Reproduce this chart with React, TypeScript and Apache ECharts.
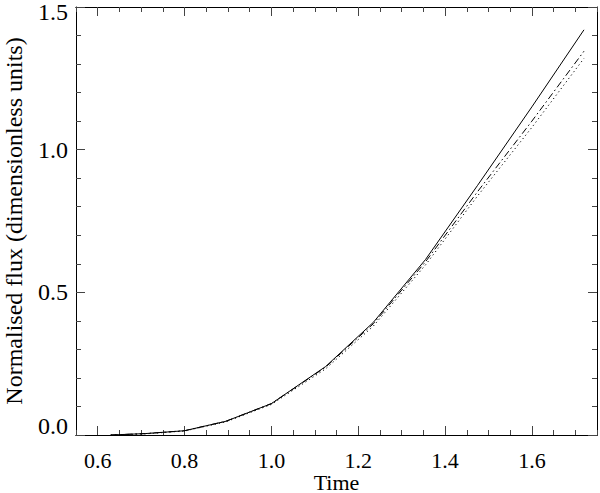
import React, { useEffect, useRef } from "react";
import * as echarts from "echarts";

const time = [0.63, 0.71, 0.8, 0.895, 1.0, 1.125, 1.235, 1.355, 1.475, 1.6, 1.72];
const fluxSolid = [0.0, 0.005, 0.015, 0.048, 0.11, 0.24, 0.395, 0.615, 0.875, 1.15, 1.42];
const fluxDashDot = [0.0, 0.005, 0.015, 0.048, 0.11, 0.238, 0.39, 0.607, 0.853, 1.1, 1.345];
const fluxDotted = [0.0, 0.004, 0.014, 0.046, 0.107, 0.232, 0.382, 0.596, 0.838, 1.078, 1.32];

const xMajorTicks = [0.6, 0.8, 1.0, 1.2, 1.4, 1.6];
const xMinorTicks = [0.55, 0.65, 0.7, 0.75, 0.85, 0.9, 0.95, 1.05, 1.1, 1.15, 1.25, 1.3, 1.35, 1.45, 1.5, 1.55, 1.65, 1.7, 1.75];

const X_MIN = 0.55;
const X_MAX = 1.75;
const Y_MIN = 0;
const Y_MAX = 1.5;

const FONT = "'Liberation Serif', 'Times New Roman', serif";
const TICK_COLOR = "#444";

function pairs(xs: number[], ys: number[]) {
  return xs.map((x, i) => [x, ys[i]]);
}

export default function App() {
  const ref = useRef<HTMLDivElement>(null);
  useEffect(() => {
    if (!ref.current) return;
    const chart = echarts.init(ref.current, null, { renderer: "svg" });
    const baseX = {
      type: "value" as const,
      min: X_MIN,
      max: X_MAX,
      splitLine: { show: false },
      axisLine: { onZero: false, lineStyle: { color: "#000", width: 1 } },
    };
    const labelFont = { fontFamily: FONT, fontSize: 24, color: "#000" };
    const xFont = { fontFamily: FONT, fontSize: 22, color: "#000", lineHeight: 22 };
    chart.setOption({
      animation: false,
      backgroundColor: "#fff",
      textStyle: { fontFamily: FONT },
      grid: { left: 76, right: 3, top: 7, bottom: 58, containLabel: false, outerBoundsMode: "none" },
      xAxis: [
        {
          ...baseX,
          position: "bottom",
          name: "Time",
          nameLocation: "middle",
          nameGap: 36,
          nameMoveOverlap: false,
          nameTextStyle: { ...xFont },
          axisTick: { inside: true, length: 9, customValues: xMajorTicks, lineStyle: { color: TICK_COLOR } },
          axisLabel: {
            customValues: xMajorTicks,
            margin: 14,
            ...xFont,
            formatter: (v: number) => v.toFixed(1),
          },
        },
        {
          ...baseX,
          position: "bottom",
          axisTick: { inside: true, length: 5, customValues: xMinorTicks, lineStyle: { color: TICK_COLOR } },
          axisLabel: { show: false },
        },
        {
          ...baseX,
          position: "top",
          axisTick: { inside: true, length: 9, customValues: xMajorTicks, lineStyle: { color: TICK_COLOR } },
          axisLabel: { show: false },
        },
        {
          ...baseX,
          position: "top",
          axisTick: { inside: true, length: 5, customValues: xMinorTicks, lineStyle: { color: TICK_COLOR } },
          axisLabel: { show: false },
        },
      ],
      yAxis: [
        {
          type: "value",
          position: "left",
          min: Y_MIN,
          max: Y_MAX,
          interval: 0.5,
          name: "Normalised flux (dimensionless units)",
          nameLocation: "middle",
          nameGap: 50,
          nameMoveOverlap: false,
          nameTextStyle: { ...labelFont },
          splitLine: { show: false },
          axisLine: { show: true, onZero: false, lineStyle: { color: "#000", width: 1 } },
          axisTick: { show: true, inside: true, length: 9, lineStyle: { color: TICK_COLOR } },
          minorTick: { show: true, splitNumber: 5, length: 5, lineStyle: { color: TICK_COLOR } },
          axisLabel: {
            margin: 8,
            ...labelFont,
            formatter: (v: number) => {
              const s = v.toFixed(1);
              if (v <= Y_MIN + 1e-9) return `{b|${s}}`;
              if (v >= Y_MAX - 1e-9) return `{t|${s}}`;
              return `{n|${s}}`;
            },
            rich: {
              n: { ...labelFont },
              b: { ...labelFont, padding: [0, 0, 18, 0] },
              t: { ...labelFont, lineHeight: 20, padding: [10, 0, 0, 0] },
            },
          },
        },
        {
          type: "value",
          position: "right",
          min: Y_MIN,
          max: Y_MAX,
          interval: 0.5,
          splitLine: { show: false },
          axisLine: { show: true, onZero: false, lineStyle: { color: "#000", width: 1 } },
          axisTick: { show: true, inside: true, length: 9, lineStyle: { color: TICK_COLOR } },
          minorTick: { show: true, splitNumber: 5, length: 5, lineStyle: { color: TICK_COLOR } },
          axisLabel: { show: false },
        },
      ],
      series: [
        {
          type: "line",
          xAxisIndex: 0,
          yAxisIndex: 0,
          data: pairs(time, fluxSolid),
          showSymbol: false,
          symbol: "none",
          lineStyle: { color: "#000", width: 1, type: "solid" },
        },
        {
          type: "line",
          xAxisIndex: 0,
          yAxisIndex: 0,
          data: pairs(time, fluxDashDot),
          showSymbol: false,
          symbol: "none",
          lineStyle: { color: "#000", width: 1, type: [7, 3, 1.5, 3] },
        },
        {
          type: "line",
          xAxisIndex: 0,
          yAxisIndex: 0,
          data: pairs(time, fluxDotted),
          showSymbol: false,
          symbol: "none",
          lineStyle: { color: "#000", width: 1, type: [1.2, 3] },
        },
      ],
    });
    return () => chart.dispose();
  }, []);
  return <div ref={ref} style={{ width: 600, height: 493, position: "fixed", left: 0, top: 0 }} />;
}
